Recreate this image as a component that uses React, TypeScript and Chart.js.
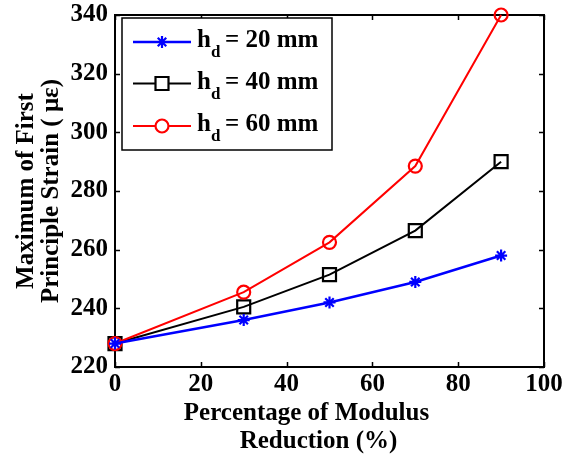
import { useEffect, useRef } from 'react';
import { Chart, registerables } from 'chart.js';

Chart.register(...registerables);

const FONT = '"Liberation Serif", "Times New Roman", serif';

// Data
const reductionPct = [0, 30, 50, 70, 90];
const hd20 = [228, 236, 242, 249, 258];
const hd40 = [228, 240.5, 251.5, 266.5, 290];
const hd60 = [228, 245.5, 262.5, 288.5, 340];
const seriesNames = ['20', '40', '60'];
const xTickValues = [0, 20, 40, 60, 80, 100];
const yTickValues = [220, 240, 260, 280, 300, 320, 340];
const xTitleLines = ['Percentage of Modulus', 'Reduction (%)'];
const yTitleLines = ['Maximum of First', 'Principle Strain ( με)'];

const colors = ['#0000ff', '#000000', '#ff0000'];
const markers = ['star', 'rect', 'circle'];

const framePlugin = {
  id: 'matlabFrame',
  beforeDatasetsDraw(chart: any) {
    const { ctx, chartArea, scales } = chart;
    const { left, right, top, bottom } = chartArea;
    ctx.save();
    ctx.strokeStyle = '#000';
    ctx.lineWidth = 2;
    ctx.strokeRect(left, top, right - left, bottom - top);
    ctx.lineWidth = 1.5;
    const tl = 5;
    ctx.beginPath();
    scales.x.ticks.forEach((t: any) => {
      const px = Math.round(scales.x.getPixelForValue(t.value)) + 0.5;
      ctx.moveTo(px, bottom);
      ctx.lineTo(px, bottom - tl);
      ctx.moveTo(px, top);
      ctx.lineTo(px, top + tl);
    });
    scales.y.ticks.forEach((t: any) => {
      const py = Math.round(scales.y.getPixelForValue(t.value)) + 0.5;
      ctx.moveTo(left, py);
      ctx.lineTo(left + tl, py);
      ctx.moveTo(right, py);
      ctx.lineTo(right - tl, py);
    });
    ctx.stroke();
    ctx.restore();
  },
};

function drawMarker(ctx: CanvasRenderingContext2D, style: string, x: number, y: number, color: string) {
  ctx.save();
  ctx.strokeStyle = color;
  ctx.lineWidth = 2.2;
  ctx.beginPath();
  if (style === 'star') {
    const r = 6;
    for (let k = 0; k < 4; k++) {
      const a = (k * Math.PI) / 4;
      ctx.moveTo(x - r * Math.cos(a), y - r * Math.sin(a));
      ctx.lineTo(x + r * Math.cos(a), y + r * Math.sin(a));
    }
    ctx.stroke();
  } else if (style === 'rect') {
    ctx.fillStyle = '#fff';
    ctx.rect(x - 6.5, y - 6.5, 13, 13);
    ctx.fill();
    ctx.stroke();
  } else {
    ctx.fillStyle = '#fff';
    ctx.arc(x, y, 6.5, 0, Math.PI * 2);
    ctx.fill();
    ctx.stroke();
  }
  ctx.restore();
}

const annotationPlugin = {
  id: 'annotations',
  afterDraw(chart: any) {
    const { ctx, chartArea } = chart;
    const { left, right, top, bottom } = chartArea;
    ctx.save();
    ctx.fillStyle = '#000';
    // x title
    ctx.font = `bold 25px ${FONT}`;
    ctx.textAlign = 'center';
    ctx.textBaseline = 'alphabetic';
    const cx = (left + right) / 2;
    ctx.fillText(xTitleLines[0], cx - 23, bottom + 53);
    ctx.fillText(xTitleLines[1], cx - 11, bottom + 81);
    // y title
    const cy = (top + bottom) / 2;
    ctx.save();
    ctx.translate(33, cy);
    ctx.rotate(-Math.PI / 2);
    ctx.fillText(yTitleLines[0], 0, 0);
    ctx.restore();
    ctx.save();
    ctx.translate(58, cy);
    ctx.rotate(-Math.PI / 2);
    ctx.fillText(yTitleLines[1], 0, 0);
    ctx.restore();

    // legend
    const bx = left + 7;
    const by = top + 3;
    const bw = 210;
    const bh = 132;
    ctx.fillStyle = '#fff';
    ctx.fillRect(bx, by, bw, bh);
    ctx.strokeStyle = '#000';
    ctx.lineWidth = 1.5;
    ctx.strokeRect(bx, by, bw, bh);
    const rows = [by + 24, by + 65.5, by + 108];
    seriesNames.forEach((name, i) => {
      const ry = rows[i];
      ctx.strokeStyle = colors[i];
      ctx.lineWidth = i === 0 ? 2.5 : 2;
      ctx.beginPath();
      ctx.moveTo(bx + 11, ry);
      ctx.lineTo(bx + 69, ry);
      ctx.stroke();
      drawMarker(ctx, markers[i], bx + 40, ry, colors[i]);
      ctx.fillStyle = '#000';
      ctx.textAlign = 'left';
      ctx.font = `bold 25px ${FONT}`;
      ctx.fillText('h', bx + 75, ry + 5);
      ctx.font = `bold 17px ${FONT}`;
      ctx.fillText('d', bx + 89, ry + 15);
      ctx.font = `bold 25px ${FONT}`;
      ctx.fillText(`= ${name} mm`, bx + 103, ry + 5);
    });
    ctx.restore();
  },
};

export default function App() {
  const canvasRef = useRef<HTMLCanvasElement | null>(null);

  useEffect(() => {
    document.body.style.margin = '0';
    const canvas = canvasRef.current;
    if (!canvas) return;
    const mk = (data: number[], i: number, order: number) => ({
      label: `hd = ${seriesNames[i]} mm`,
      data: reductionPct.map((x, k) => ({ x, y: data[k] })),
      borderColor: colors[i],
      backgroundColor: colors[i] === '#0000ff' ? colors[i] : 'rgba(255,255,255,0)',
      borderWidth: i === 0 ? 2.5 : 2,
      pointStyle: markers[i] as any,
      pointRadius: i === 1 ? 9.2 : i === 0 ? 6 : 6.5,
      pointBorderWidth: 2.2,
      pointBorderColor: colors[i],
      pointBackgroundColor: 'rgba(255,255,255,0)',
      tension: 0,
      clip: false as any,
      order,
    });
    const chart = new Chart(canvas, {
      type: 'line',
      data: {
        datasets: [mk(hd20, 0, 0), mk(hd40, 1, 2), mk(hd60, 2, 1)],
      },
      options: {
        responsive: false,
        animation: false,
        events: [],
        layout: { padding: { top: 15, right: 19, left: 0, bottom: 0 } },
        plugins: { legend: { display: false }, tooltip: { enabled: false } },
        scales: {
          x: {
            type: 'linear',
            min: 0,
            max: 100,
            afterBuildTicks: (s: any) => {
              s.ticks = xTickValues.map((v) => ({ value: v }));
            },
            afterFit: (s: any) => {
              s.height = 90;
              s.paddingLeft = 0;
              s.paddingRight = 0;
            },
            grid: { display: false, drawTicks: false },
            border: { display: false },
            ticks: {
              color: '#000',
              padding: 3,
              maxRotation: 0,
              font: { family: FONT, size: 25, weight: 'bold' },
            },
          },
          y: {
            type: 'linear',
            min: 220,
            max: 340,
            afterBuildTicks: (s: any) => {
              s.ticks = yTickValues.map((v) => ({ value: v }));
            },
            afterFit: (s: any) => {
              s.width = 115;
              s.paddingTop = 0;
              s.paddingBottom = 0;
            },
            grid: { display: false, drawTicks: false },
            border: { display: false },
            ticks: {
              color: '#000',
              padding: 7,
              font: { family: FONT, size: 25, weight: 'bold' },
            },
          },
        },
      },
      plugins: [framePlugin, annotationPlugin],
    });
    return () => chart.destroy();
  }, []);

  return (
    <div style={{ position: 'absolute', left: 0, top: 0, width: 563, height: 457, background: '#fff' }}>
      <canvas ref={canvasRef} width={563} height={457} style={{ display: 'block' }} />
    </div>
  );
}
